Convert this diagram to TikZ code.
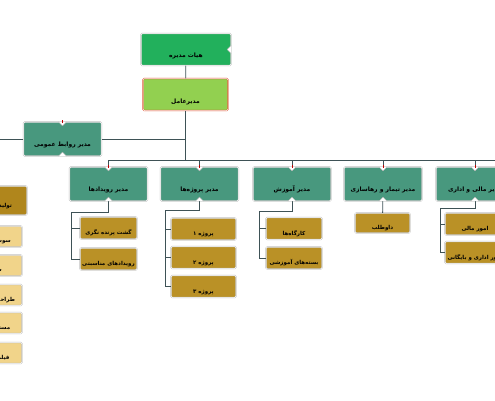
\documentclass[tikz,border=0pt]{standalone}
\usepackage{fontspec}
\newfontfamily\arabicfont[Script=Arabic]{DejaVu Sans}
\TeXXeTstate=1
\newcommand{\fatext}[1]{\arabicfont\bfseries\beginR #1\endR}

\definecolor{boardgreen}{RGB}{34,176,92}
\definecolor{ceogreen}{RGB}{146,208,80}
\definecolor{mgrteal}{RGB}{72,152,126}
\definecolor{unitgold}{RGB}{186,145,38}
\definecolor{unitdark}{RGB}{176,134,28}
\definecolor{unitlight}{RGB}{241,212,138}
\definecolor{linkgray}{RGB}{62,82,86}

% notches of the boxes
\newcommand{\notchtop}[1]{%
  \path[fill=white,draw=gray!60,line width=0.4] (#1.north) ++(-4,0) -- ++(4,4) -- ++(4,-4);
  \draw[red!75!black,line width=0.8] (#1.north) ++(0,-1.5) -- ++(0,2.5);}
\newcommand{\notchbottom}[1]{%
  \path[fill=white,draw=gray!60,line width=0.4] (#1.south) ++(-4,0) -- ++(4,-4) -- ++(4,4);}

\tikzset{
  box/.style={rectangle, rounded corners=1.2pt, draw=gray!55, double=white,
    double distance=0.5pt, inner xsep=2pt, inner ysep=2pt,
    font=\fontsize{6}{7}\selectfont, text=black},
  boardbox/.style={box, fill=boardgreen, minimum width=90, text height=22, text depth=6},
  ceobox/.style={box, fill=ceogreen, draw=red!45!brown, minimum width=85, text height=23, text depth=5},
  mgrbox/.style={box, fill=mgrteal, minimum width=78, text height=22, text depth=8},
  unitbox/.style={box, fill=unitgold, minimum width=57, text height=15.5, text depth=2.5,
    font=\fontsize{5.5}{6.5}\selectfont},
  sidebox/.style={unitbox, fill=unitlight, minimum width=56, text height=14.5, text depth=2.5},
  link/.style={draw=linkgray, line width=0.8}
}

\begin{document}
\begin{tikzpicture}[x=1pt,y=1pt,yscale=-1]
\path[use as bounding box, clip] (0,0) rectangle (495,400);

%Shape: top of the chart
\node[boardbox] (board) at (186,49.5) {\fatext{هیات مدیره}};
\node[ceobox] (ceo) at (185.5,94.5) {\fatext{مدیرعامل}};
\node[mgrbox] (pr) at (62.5,139) {\fatext{مدیر روابط عمومی}};

%Shape: managers
\node[mgrbox] (events) at (108.5,184) {\fatext{مدیر رویدادها}};
\node[mgrbox] (projects) at (199.5,184) {\fatext{مدیر پروژه‌ها}};
\node[mgrbox] (edu) at (292,184) {\fatext{مدیر آموزش}};
\node[mgrbox] (care) at (383,184) {\fatext{مدیر تیمار و رهاسازی}};
\node[mgrbox] (fin) at (475,184) {\fatext{مدیر مالی و اداری}};

%Shape: units
\node[unitbox] (ev1) at (108.5,228) {\fatext{گشت پرنده نگری}};
\node[unitbox] (ev2) at (108.5,259) {\fatext{رویدادهای مناسبتی}};
\node[unitbox, minimum width=65] (pj1) at (203.5,229) {\fatext{پروژه ۱}};
\node[unitbox, minimum width=65] (pj2) at (203.5,257.5) {\fatext{پروژه ۲}};
\node[unitbox, minimum width=65] (pj3) at (203.5,286.5) {\fatext{پروژه ۳}};
\node[unitbox, minimum width=56] (ed1) at (294,228.5) {\fatext{کارگاه‌ها}};
\node[unitbox, minimum width=56] (ed2) at (294,258) {\fatext{بسته‌های آموزشی}};
\node[unitbox, minimum width=55, text height=14, text depth=2] (ca1) at (382.5,223) {\fatext{داوطلب}};
\node[unitbox, minimum width=60] (fi1) at (475,224) {\fatext{امور مالی}};
\node[unitbox, minimum width=60] (fi2) at (475,252.5) {\fatext{امور اداری و بایگانی}};

%Shape: left column (cut by the edge)
\node[unitbox, fill=unitdark, minimum width=60, text height=19, text depth=6] (prod) at (-3,200.5) {\fatext{تولید محتوا}};
\node[sidebox] (side1) at (-6,236.5) {\fatext{سوشال مدیا}};
\node[sidebox] (side2) at (-6,265.5) {\fatext{سایت}};
\node[sidebox] (side3) at (-6,295) {\fatext{طراحی گرافیک}};
\node[sidebox] (side4) at (-6,323) {\fatext{مستندسازی}};
\node[sidebox] (side5) at (-6,353) {\fatext{فیلم‌برداری}};

%Straight Lines: links
\coordinate (busR) at (500,160);
\coordinate (edgeL) at (-5,139);
\draw[link] (board) -- (ceo);
\draw[link] (ceo.south) -- (ceo.south |- busR);
\draw[link] (pr.east) -- (pr.east -| ceo.south);
\draw[link] (pr.west) -- (edgeL);
\draw[link] (events.north) |- (busR);
\draw[link] (projects.north) -- (projects.north |- busR);
\draw[link] (edu.north) -- (edu.north |- busR);
\draw[link] (care.north) -- (care.north |- busR);
\draw[link] (fin.north) -- (fin.north |- busR);

\draw[link] (events.south) -- ++(0,11) -| ([xshift=-8pt]ev2.west) -- (ev2.west);
\draw[link] ([xshift=-8pt]ev1.west) -- (ev1.west);
\draw[link] (projects.south) -- ++(0,9) -| ([xshift=-5pt]pj3.west) -- (pj3.west);
\draw[link] ([xshift=-5pt]pj1.west) -- (pj1.west);
\draw[link] ([xshift=-5pt]pj2.west) -- (pj2.west);
\draw[link] (edu.south) -- ++(0,10) -| ([xshift=-6pt]ed2.west) -- (ed2.west);
\draw[link] ([xshift=-6pt]ed1.west) -- (ed1.west);
\draw[link] (care) -- (ca1);
\draw[link] (fin.south) -- ++(0,7) -| ([xshift=-4pt]fi2.west) -- (fi2.west);
\draw[link] ([xshift=-4pt]fi1.west) -- (fi1.west);

%Shape: notches
\path[fill=white,draw=gray!60,line width=0.4] (board.east) ++(0,-4) -- ++(-4,4) -- ++(4,4);
\notchtop{pr}
\notchbottom{pr}
\notchtop{events}
\notchbottom{events}
\notchtop{projects}
\notchbottom{projects}
\notchtop{edu}
\notchbottom{edu}
\notchtop{care}
\notchbottom{care}
\notchtop{fin}
\notchbottom{fin}

\end{tikzpicture}
\end{document}
